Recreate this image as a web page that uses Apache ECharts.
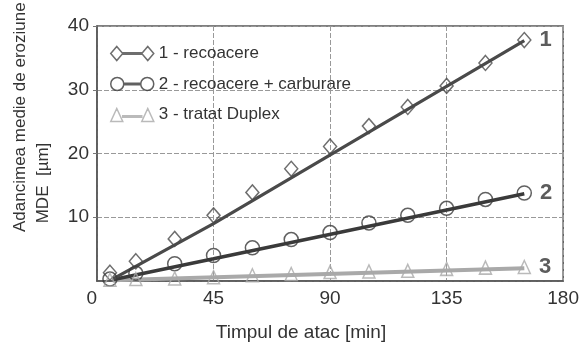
<!DOCTYPE html>
<html>
<head>
<meta charset="utf-8">
<script src="https://cdn.jsdelivr.net/npm/echarts@6/dist/echarts.min.js"></script>
<style>
html,body{margin:0;padding:0;background:#fff;}
#c{width:582px;height:349px;}
</style>
</head>
<body>
<div id="c"></div>
<script>
// ---- data ----
const timeMin = [5, 15, 30, 45, 60, 75, 90, 105, 120, 135, 150, 165];
const mde1 = [1.3, 3.1, 6.6, 10.3, 13.9, 17.6, 21.1, 24.3, 27.3, 30.6, 34.2, 37.8];
const mde2 = [0.3, 1.2, 2.7, 4.0, 5.2, 6.5, 7.6, 9.1, 10.3, 11.4, 12.8, 13.8];
const mde3 = [0.2, 0.3, 0.4, 0.6, 0.9, 1.1, 1.4, 1.5, 1.6, 1.9, 2.1, 2.2];
// trend lines
const fit1X = [6, 45, 165];
const fit1Y = [0.3, 9.0, 37.7];
const fit2X = [6, 45, 165];
const fit2Y = [0.2, 3.5, 13.7];
const fit3X = [6, 165];
const fit3Y = [0.1, 2.0];
const seriesNames = ['1 - recoacere', '2 - recoacere + carburare', '3 - tratat Duplex'];
const endLabels = ['1', '2', '3'];
const xTicks = [0, 45, 90, 135, 180];
const yTicks = [0, 10, 20, 30, 40];

const FONT = '"Liberation Sans", Arial, sans-serif';
const zip = (a, b) => a.map((v, i) => [v, b[i]]);
function pts(ys, label) {
  return ys.map((y, i) => {
    const it = { value: [timeMin[i], y] };
    if (i === ys.length - 1) {
      it.label = {
        show: true, formatter: label, position: 'right', distance: 8,
        fontSize: 22, fontWeight: 'bold', color: '#333', fontFamily: FONT
      };
    }
    return it;
  });
}

const c1 = '#4a4a4a', c2 = '#3a3a3a', c3 = '#a9a9a9';
const clear = 'rgba(255,255,255,0)';

const chart = echarts.init(document.getElementById('c'));
chart.setOption({
  backgroundColor: '#ffffff',
  animation: false,
  grid: { left: 97, right: 9, top: 26, bottom: 68, show: true, borderColor: '#555', borderWidth: 1.5 },
  xAxis: {
    type: 'value', min: xTicks[0], max: xTicks[xTicks.length - 1], interval: 45,
    axisLine: { show: true, lineStyle: { color: '#555', width: 1.5 } },
    axisTick: { show: false },
    axisLabel: { fontSize: 19, color: '#333', fontFamily: FONT, margin: 8, alignMinLabel: 'right' },
    splitLine: { show: true, lineStyle: { color: '#999', type: [5, 2], width: 1 } }
  },
  yAxis: {
    type: 'value', min: yTicks[0], max: yTicks[yTicks.length - 1], interval: 10,
    axisLine: { show: true, lineStyle: { color: '#555', width: 1.5 } },
    axisTick: { show: true, length: 4, lineStyle: { color: '#777' } },
    axisLabel: { fontSize: 19, color: '#333', fontFamily: FONT, margin: 8, showMinLabel: false },
    splitLine: { show: true, lineStyle: { color: '#999', type: [5, 2], width: 1 } }
  },
  legend: {
    orient: 'vertical', left: 105, top: 40, itemWidth: 43, itemHeight: 14, itemGap: 13.5,
    textStyle: { fontSize: 17, color: '#333', fontFamily: FONT },
    data: [
      { name: seriesNames[0], icon: 'path://M0,7L6,0L12,7L6,14Z M31,7L37,0L43,7L37,14Z M12,6.25L31,6.25L31,7.75L12,7.75Z',
        itemStyle: { color: clear, borderColor: c1, borderWidth: 1.5 } },
      { name: seriesNames[1], icon: 'path://M0,7A6.5,6.5,0,1,1,13,7A6.5,6.5,0,1,1,0,7Z M30,7A6.5,6.5,0,1,1,43,7A6.5,6.5,0,1,1,30,7Z M13,6.25L30,6.25L30,7.75L13,7.75Z',
        itemStyle: { color: clear, borderColor: c2, borderWidth: 1.5 } },
      { name: seriesNames[2], icon: 'path://M0,14L6,1L12,14Z M31,14L37,1L43,14Z M12,8.25L31,8.25L31,9.75L12,9.75Z M0,0L0.01,0Z',
        itemStyle: { color: clear, borderColor: c3, borderWidth: 1.5 } }
    ]
  },
  series: [
    { type: 'line', data: zip(fit3X, fit3Y), symbol: 'none', lineStyle: { color: c3, width: 4 }, silent: true, z: 2 },
    { type: 'line', data: zip(fit2X, fit2Y), symbol: 'none', lineStyle: { color: c2, width: 3.5 }, silent: true, z: 2 },
    { type: 'line', data: zip(fit1X, fit1Y), symbol: 'none', lineStyle: { color: c1, width: 3.2 }, silent: true, z: 2 },
    { name: seriesNames[0], type: 'scatter', data: pts(mde1, endLabels[0]), symbol: 'diamond', symbolSize: [13, 15],
      itemStyle: { color: clear, borderColor: c1, borderWidth: 1.5 }, z: 3 },
    { name: seriesNames[1], type: 'scatter', data: pts(mde2, endLabels[1]), symbol: 'circle', symbolSize: 14,
      itemStyle: { color: clear, borderColor: c2, borderWidth: 1.5 }, z: 3 },
    { name: seriesNames[2], type: 'scatter', data: pts(mde3, endLabels[2]), symbol: 'triangle', symbolSize: [12, 13],
      itemStyle: { color: clear, borderColor: c3, borderWidth: 1.5 }, z: 3 }
  ],
  graphic: [
    { type: 'text', x: 20, y: 232, rotation: Math.PI / 2,
      style: { text: 'Adancimea medie de eroziune (MDE)', font: '17px ' + FONT, fill: '#333', textAlign: 'left', textVerticalAlign: 'middle' } },
    { type: 'text', x: 43, y: 183, rotation: Math.PI / 2,
      style: { text: 'MDE  [µm]', font: '17px ' + FONT, fill: '#333', textAlign: 'center', textVerticalAlign: 'middle' } },
    { type: 'text', x: 301, y: 333,
      style: { text: 'Timpul de atac [min]', font: '19px ' + FONT, fill: '#333', textAlign: 'center', textVerticalAlign: 'middle' } }
  ]
});
</script>
</body>
</html>
